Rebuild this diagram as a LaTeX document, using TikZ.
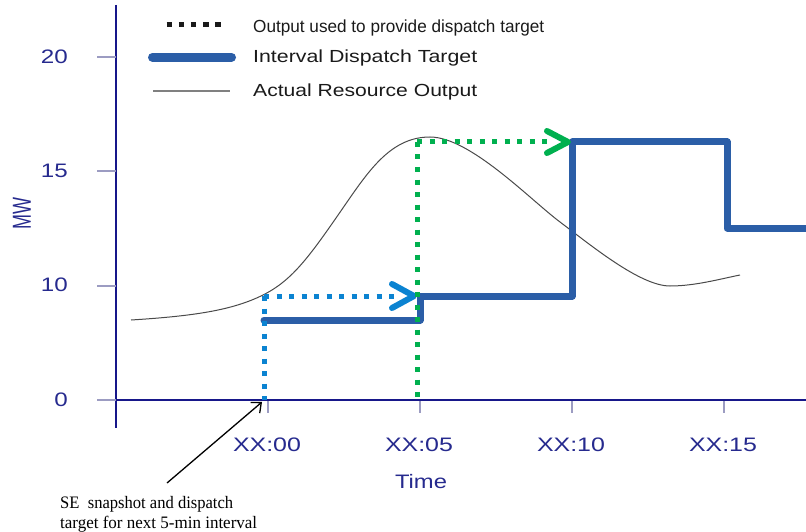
\documentclass[tikz,border=0pt]{standalone}
\usepackage{fontspec}
\usepackage{graphicx}
\setmainfont{Liberation Sans}
\newfontfamily\notefont{Liberation Serif}
\usetikzlibrary{arrows.meta}
\definecolor{navy}{HTML}{262A8E}
\definecolor{axisc}{HTML}{17178A}
\definecolor{tickc}{HTML}{9C9CC2}
\definecolor{stepc}{HTML}{2B5EA7}
\definecolor{bluedot}{HTML}{0B83D1}
\definecolor{greendot}{HTML}{00B04F}
\definecolor{curvec}{HTML}{4A4A4A}
\definecolor{legc}{HTML}{1A1A1A}
\newcommand\fitw[2]{\resizebox{#1}{\height}{#2}}
\begin{document}
\begin{tikzpicture}[x=1pt,y=-1pt,
  axislbl/.style={text=navy, font=\fontsize{19.5}{22}\selectfont, inner sep=0pt},
  legtxt/.style={text=legc, font=\fontsize{17.5}{20}\selectfont, anchor=base west, inner sep=0pt},
  notetxt/.style={text=black, font=\notefont\fontsize{17.5}{20}\selectfont, anchor=base west, inner sep=0pt},
  axisline/.style={axisc, line width=2pt},
  tickline/.style={tickc, line width=2pt},
  stepline/.style={stepc, line width=7pt, line join=round, line cap=round},
  dotline/.style={line width=5pt, dash pattern=on 5pt off 7.5pt},
  chev/.style={line width=6pt, line cap=round, line join=round},
  curveline/.style={curvec, line width=1pt}]
\useasboundingbox (0,0) rectangle (806,532);
% axes
\coordinate (ytop) at (116,5);
\coordinate (ybot) at (116,428);
\coordinate (o) at (116,400);
\coordinate (xend) at (806,400);
\draw[axisline] (ytop) -- (o);
\draw[axisc, line width=1.2pt] (o) -- (ybot);
\draw[axisline] (o) -- (xend);
% y ticks
\foreach \yy/\lab in {57/20, 171/15, 285.5/10, 400/0}{
  \draw[tickline] (97,\yy) -- (116,\yy);
  \node[axislbl, anchor=east] (yl\lab) at (68,\yy-0.5) {\scalebox{1.24}[1]{\lab}};
}
% x ticks
\foreach \xx/\lab in {268/00, 420/05, 572/10, 724/15}{
  \draw[tickline] (\xx,401) -- (\xx,413);
  \node[axislbl] (xl\lab) at (\xx-1,445) {\fitw{68pt}{XX:\lab}};
}
\node[axislbl] (tlab) at (421,482) {\fitw{52pt}{Time}};
\node[text=navy, inner sep=0pt, rotate=90] (mwlab) at (22,214) {\scalebox{1}[1.45]{\fontsize{18}{20}\selectfont MW}};
% legend
\draw[legc, line width=5pt, dash pattern=on 5.5pt off 6.6pt] (166.7,25) -- (221,25);
\node[legtxt] (leg1) at (253,32.3) {\fitw{291pt}{Output used to provide dispatch target}};
\draw[stepc, line width=9pt, line cap=round] (152.5,57.2) -- (231.5,57.2);
\node[legtxt] (leg2) at (253,62.6) {\fitw{224pt}{Interval Dispatch Target}};
\draw[gray, line width=1.3pt] (153,91) -- (230,91);
\node[legtxt] (leg3) at (253,96.7) {\fitw{224pt}{Actual Resource Output}};
% actual output curve
\draw[curveline] (131,320)
  .. controls (195,316) and (233,310) .. (263,295)
  .. controls (293,280) and (310,255.75) .. (345,205)
  .. controls (370,168.75) and (391.9,137) .. (430,137)
  .. controls (470,137) and (530,199.5) .. (560,222)
  .. controls (590,244.5) and (640,286) .. (670,286)
  .. controls (695,286) and (720,279) .. (740,275);
% interval dispatch target
\draw[stepline] (264,320) -- (420,320) -- (420,296) -- (572,296) -- (572,142) -- (727,142) -- (727,228) -- (812,228);
% blue dotted
\coordinate (bcorner) at (264,296);
\coordinate (bbase) at (264,400);
\coordinate (bend) at (396,296);
\draw[bluedot, dotline] (bcorner) -- (bbase);
\draw[bluedot, dotline] (bcorner) -- (bend);
\draw[bluedot, chev] (392,284) -- (414,296) -- (392,308);
% green dotted
\coordinate (gcorner) at (417,142);
\coordinate (gbase) at (417,400);
\coordinate (gend) at (550,142);
\draw[greendot, dotline] (gcorner) -- (gbase);
\draw[greendot, dotline] (gcorner) -- (gend);
\draw[greendot, chev] (547,131) -- (568,142) -- (547,153);
% annotation
\node[notetxt] (note1) at (60,508) {\fitw{173pt}{SE\ \ snapshot and dispatch}};
\node[notetxt] (note2) at (60,528) {\fitw{197pt}{target for next 5-min interval}};
\coordinate (nstart) at (167,483);
\coordinate (snap) at (262,402);
\draw[black, line width=1.3pt, -{Straight Barb[length=8pt,width=14pt]}] (nstart) -- (snap);
\end{tikzpicture}
\end{document}
